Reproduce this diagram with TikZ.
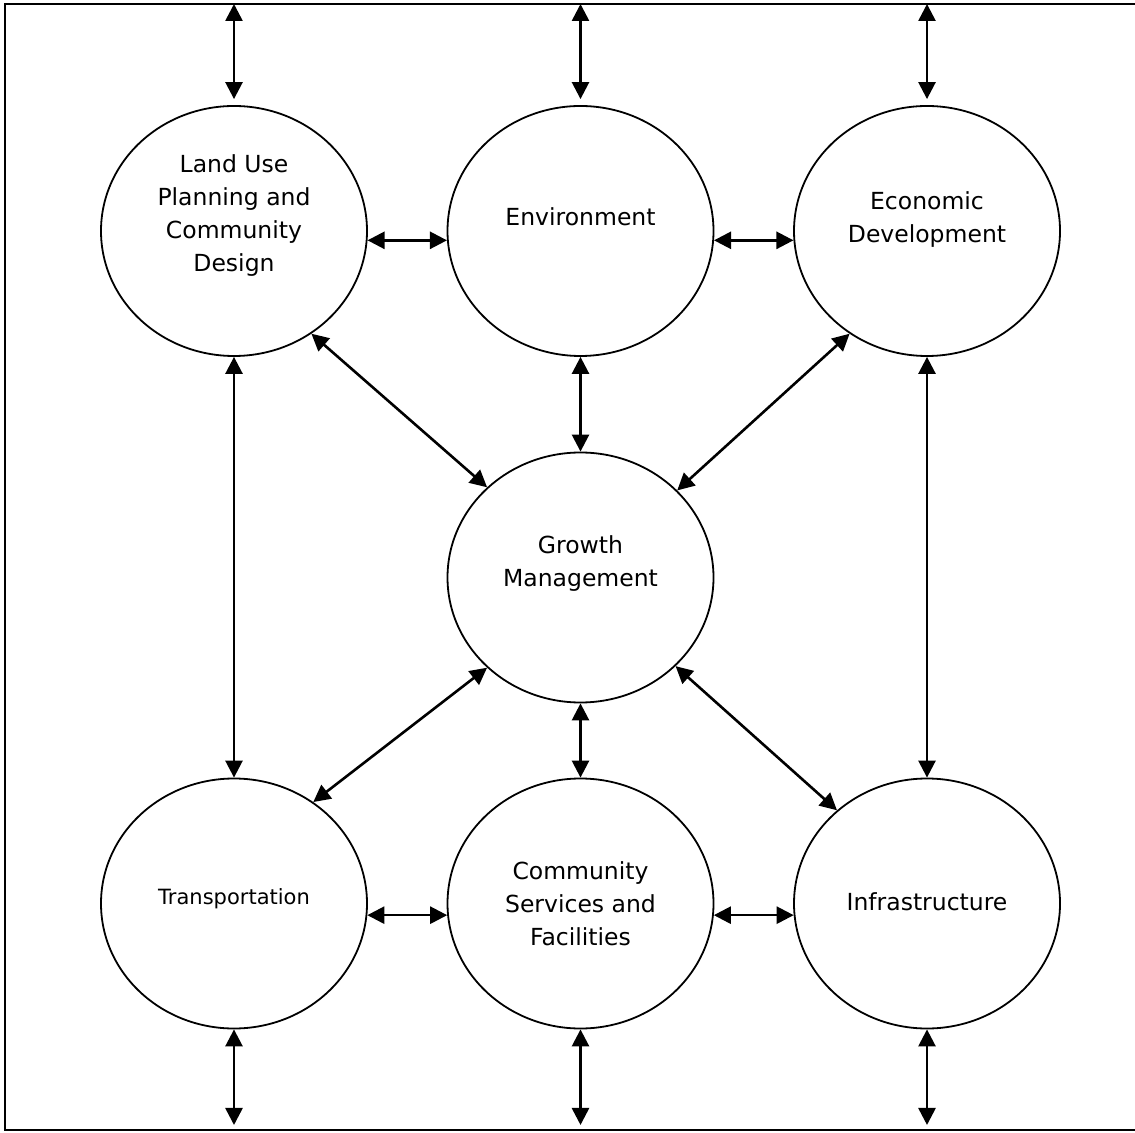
\documentclass[tikz,border=0pt]{standalone}
\usepackage{fontspec}
\setmainfont{DejaVu Sans}
\usetikzlibrary{arrows.meta,shapes.geometric,positioning}
\tikzstyle{every node}+=[inner sep=0pt,node distance=346.5bp]
\tikzstyle{every path}+=[line width=1.8bp]
\tikzstyle{topic}=[draw,ellipse,minimum width=266bp,minimum height=250bp]
\tikzstyle{caption}=[align=center,font=\fontsize{23.5bp}{33bp}\selectfont]
\tikzstyle{link}=[line width=2.6bp,{Triangle[width=17bp,length=17bp]}-{Triangle[width=17bp,length=17bp]}]
\newcommand{\drawlinks}[2][\empty]{
	\foreach \a/\b in {#2}{
		\draw[link,#1] (\a) -- (\b);
	}
}

\begin{document}
\begin{tikzpicture}[x=1bp,y=1bp]
\useasboundingbox (0,0) rectangle (1135,1133);
\coordinate (nw) at (5,1129);
\coordinate (se) at (1141,3);
\draw[line width=2bp] (nw) rectangle (se);

\node[topic] (lu) at (234,902) {};
\node[topic,right of=lu] (env) {};
\node[topic,right of=env] (econ) {};
\node[topic,below of=env] (growth) {};
\node[topic,below of=growth,node distance=326bp] (serv) {};
\node[topic,left of=serv] (trans) {};
\node[topic,right of=serv] (infra) {};

\node[caption] at ([yshift=15bp]lu) {Land Use\\Planning and\\Community\\Design};
\node[caption] at ([yshift=14bp]env) {Environment};
\node[caption] at ([yshift=11bp]econ) {Economic\\Development};
\node[caption] at ([yshift=14bp]growth) {Growth\\Management};
\node[caption,font=\fontsize{21bp}{30bp}\selectfont] at ([yshift=5bp]trans) {Transportation};
\node[caption] at (serv) {Community\\Services and\\Facilities};
\node[caption] at ([yshift=2bp]infra) {Infrastructure};

% links to the outside
\foreach \n in {lu,env,econ}{
	\draw[link,shorten <=6bp] (\n.north) -- (\n |- nw);
}
\foreach \n in {trans,serv,infra}{
	\draw[link,shorten >=5bp] (\n.south) -- (\n |- se);
}

\drawlinks{lu.-4.5/env.184.5, env.-4.5/econ.184.5, trans.-5/serv.185, serv.-5/infra.185}
\drawlinks{lu.south/trans.north, env.south/growth.north, econ.south/infra.north, growth.south/serv.north}
\drawlinks{lu.-53/growth.136, econ.233/growth.42, growth.224/trans.52, growth.-43/infra.134}
\end{tikzpicture}
\end{document}
